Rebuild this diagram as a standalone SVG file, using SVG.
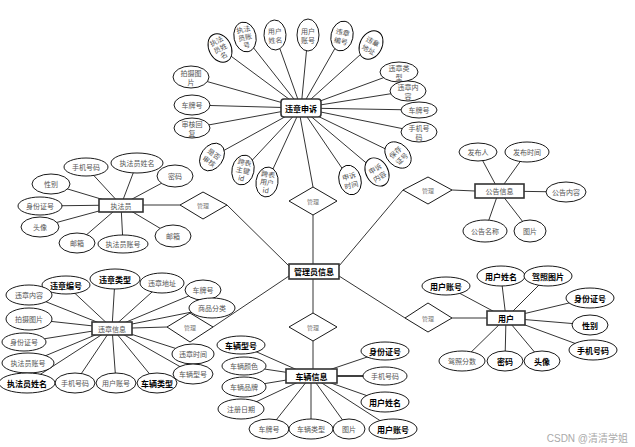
<svg xmlns="http://www.w3.org/2000/svg" width="635" height="447" viewBox="0 0 635 447">
<style>
.bg{fill:#fff}
.l line{stroke:#000;stroke-width:0.8}
.e{fill:#fff;stroke:#000;stroke-width:0.9}
.r{fill:#fff;stroke:#333;stroke-width:1.6}
.d{fill:#fff;stroke:#000;stroke-width:0.9}
text{font-family:"Noto Sans CJK SC","Noto Sans",sans-serif;font-size:7px;fill:#555;text-anchor:middle;dominant-baseline:central}
text.b{font-weight:bold;fill:#000;font-size:8px}
text.s{font-size:6px;fill:#777}
</style>
<rect class="bg" width="635" height="447"/>
<g id="connectors" class="l">
<!-- 违章申诉 -->
<line x1="301" y1="108" x2="220" y2="48"/><line x1="301" y1="108" x2="245" y2="37"/><line x1="301" y1="108" x2="275" y2="35"/><line x1="301" y1="108" x2="308" y2="35"/><line x1="301" y1="108" x2="342" y2="36"/><line x1="301" y1="108" x2="371" y2="45"/><line x1="301" y1="108" x2="191" y2="77"/><line x1="301" y1="108" x2="399" y2="72"/><line x1="301" y1="108" x2="192" y2="105"/><line x1="301" y1="108" x2="408" y2="91"/><line x1="301" y1="108" x2="418" y2="110"/><line x1="301" y1="108" x2="419" y2="132"/><line x1="301" y1="108" x2="398" y2="155"/><line x1="301" y1="108" x2="377" y2="172"/><line x1="301" y1="108" x2="350" y2="180"/><line x1="301" y1="108" x2="267" y2="182"/><line x1="301" y1="108" x2="243" y2="170"/><line x1="301" y1="108" x2="212" y2="157"/><line x1="301" y1="108" x2="192" y2="128"/>
<line x1="300" y1="116" x2="313" y2="187"/>
<!-- 执法员 -->
<line x1="121" y1="205" x2="86" y2="167"/><line x1="121" y1="205" x2="137" y2="163"/><line x1="121" y1="205" x2="175" y2="176"/><line x1="121" y1="205" x2="51" y2="184"/><line x1="121" y1="205" x2="40" y2="206"/><line x1="121" y1="205" x2="40" y2="227"/><line x1="121" y1="205" x2="77" y2="243"/><line x1="121" y1="205" x2="123" y2="244"/><line x1="121" y1="205" x2="173" y2="236"/><line x1="143" y1="205" x2="180" y2="205"/>
<!-- 公告信息 -->
<line x1="499" y1="191" x2="478" y2="152"/><line x1="499" y1="191" x2="527" y2="152"/><line x1="499" y1="191" x2="566" y2="192"/><line x1="499" y1="191" x2="485" y2="231"/><line x1="499" y1="191" x2="530" y2="231"/><line x1="452" y1="190" x2="475" y2="191"/>
<!-- 用户 -->
<line x1="506" y1="318" x2="446" y2="286"/><line x1="506" y1="318" x2="501" y2="276"/><line x1="506" y1="318" x2="548" y2="276"/><line x1="506" y1="318" x2="590" y2="298"/><line x1="506" y1="318" x2="590" y2="325"/><line x1="506" y1="318" x2="593" y2="350"/><line x1="506" y1="318" x2="462" y2="361"/><line x1="506" y1="318" x2="505" y2="361"/><line x1="506" y1="318" x2="542" y2="361"/><line x1="452" y1="318" x2="487" y2="318"/>
<!-- 车辆信息 -->
<line x1="311" y1="376" x2="241" y2="345"/><line x1="311" y1="376" x2="244" y2="366"/><line x1="311" y1="376" x2="244" y2="387"/><line x1="311" y1="376" x2="241" y2="409"/><line x1="311" y1="376" x2="269" y2="429"/><line x1="311" y1="376" x2="311" y2="429"/><line x1="311" y1="376" x2="349" y2="429"/><line x1="311" y1="376" x2="393" y2="429"/><line x1="311" y1="376" x2="385" y2="351"/><line x1="311" y1="376" x2="385" y2="376" style="stroke-width:1.6"/><line x1="311" y1="376" x2="385" y2="402"/><line x1="313" y1="341" x2="313" y2="369"/>
<!-- 违章信息 -->
<line x1="112" y1="328" x2="66" y2="285"/><line x1="112" y1="328" x2="115" y2="279"/><line x1="112" y1="328" x2="162" y2="283"/><line x1="112" y1="328" x2="203" y2="290"/><line x1="112" y1="328" x2="212" y2="308"/><line x1="112" y1="328" x2="29" y2="295"/><line x1="112" y1="328" x2="29" y2="319"/><line x1="112" y1="328" x2="24" y2="342"/><line x1="112" y1="328" x2="28" y2="363"/><line x1="112" y1="328" x2="27" y2="383"/><line x1="112" y1="328" x2="75" y2="383"/><line x1="112" y1="328" x2="116" y2="383"/><line x1="112" y1="328" x2="157" y2="383"/><line x1="112" y1="328" x2="193" y2="354"/><line x1="112" y1="328" x2="193" y2="374"/><line x1="132" y1="328" x2="167" y2="327"/>
<!-- 管理员信息 -->
<line x1="313" y1="215" x2="313" y2="264"/><line x1="313" y1="279" x2="313" y2="313"/><line x1="227" y1="205" x2="289" y2="266"/><line x1="213" y1="327" x2="289" y2="276"/><line x1="403" y1="190" x2="339" y2="266"/><line x1="405" y1="318" x2="339" y2="276"/>
</g>

<g id="rel-top"><polygon class="d" points="313,187 337,201 313,215 289,201"/><text class="s" x="313" y="201">管理</text></g>
<g id="rel-bottom"><polygon class="d" points="313,313 337,327 313,341 289,327"/><text class="s" x="313" y="327">管理</text></g>
<g id="rel-left-top"><polygon class="d" points="203,192 227,205 203,219 180,205"/><text class="s" x="203" y="205">管理</text></g>
<g id="rel-left-bottom"><polygon class="d" points="190,313 213,327 190,342 167,327"/><text class="s" x="190" y="327">管理</text></g>
<g id="rel-right-top"><polygon class="d" points="428,177 452,190 428,204 403,190"/><text class="s" x="428" y="190">管理</text></g>
<g id="rel-right-bottom"><polygon class="d" points="428,303 452,318 428,332 405,318"/><text class="s" x="428" y="318">管理</text></g>

<g id="admin"><rect class="r" x="289" y="264" width="50" height="15"/><text class="b" x="314" y="271.5">管理员信息</text></g>

<g id="appeal">
<rect class="r" x="281" y="99" width="40" height="18" rx="3"/><text class="b" x="301" y="108">违章申诉</text>
<g transform="translate(220,48) rotate(-28)"><ellipse class="e" rx="11" ry="15"/><text y="-8">执法</text><text y="0">员姓</text><text y="8">名</text></g>
<g transform="translate(245,37) rotate(-12)"><ellipse class="e" rx="11" ry="15"/><text y="-8">执法</text><text y="0">员账</text><text y="8">号</text></g>
<g transform="translate(275,35) rotate(-3)"><ellipse class="e" rx="11" ry="15"/><text y="-4">用户</text><text y="5">姓名</text></g>
<g transform="translate(308,35)"><ellipse class="e" rx="11" ry="16"/><text y="-4">用户</text><text y="5">账号</text></g>
<g transform="translate(342,36) rotate(12)"><ellipse class="e" rx="11" ry="15"/><text y="-4">违章</text><text y="5">编号</text></g>
<g transform="translate(371,45) rotate(28)"><ellipse class="e" rx="11" ry="15"/><text y="-4">违章</text><text y="5">地址</text></g>
<g transform="translate(191,77)"><ellipse class="e" rx="18" ry="11"/><text y="-4">拍摄图</text><text y="5">片</text></g>
<g transform="translate(192,105)"><ellipse class="e" rx="18" ry="10"/><text y="0">车牌号</text></g>
<g transform="translate(192,128)"><ellipse class="e" rx="18" ry="10"/><text y="-4">审核回</text><text y="5">复</text></g>
<g transform="translate(399,72)"><ellipse class="e" rx="19" ry="10"/><text y="-4">违章类</text><text y="5">型</text></g>
<g transform="translate(408,91)"><ellipse class="e" rx="18" ry="10"/><text y="-4">违章内</text><text y="5">容</text></g>
<g transform="translate(419,110)"><ellipse class="e" rx="18" ry="8"/><text y="0">车牌号</text></g>
<g transform="translate(419,132)"><ellipse class="e" rx="18" ry="10"/><text y="-4">手机号</text><text y="5">码</text></g>
<g transform="translate(398,155) rotate(-45)"><ellipse class="e" rx="11" ry="15"/><text y="-4">保存</text><text y="5">证号</text></g>
<g transform="translate(377,172) rotate(-30)"><ellipse class="e" rx="11" ry="15"/><text y="-4">申诉</text><text y="5">内容</text></g>
<g transform="translate(350,180) rotate(-15)"><ellipse class="e" rx="11" ry="15"/><text y="-4">申诉</text><text y="5">时间</text></g>
<g transform="translate(267,182) rotate(8)"><ellipse class="e" rx="11" ry="15"/><text y="-8">跨表</text><text y="0">用户</text><text y="8">id</text></g>
<g transform="translate(243,170) rotate(12)"><ellipse class="e" rx="11" ry="15"/><text y="-8">跨表</text><text y="0">主键</text><text y="8">id</text></g>
<g transform="translate(212,157) rotate(35)"><ellipse class="e" rx="11" ry="15"/><text y="-4">是否</text><text y="5">审核</text></g>
</g>

<g id="officer">
<rect class="r" x="99" y="199" width="44" height="13"/><text x="121" y="205.5">执法员</text>
<ellipse class="e" cx="86" cy="167" rx="22" ry="9"/><text x="86" y="167">手机号码</text>
<ellipse class="e" cx="137" cy="163" rx="26" ry="10"/><text x="137" y="163">执法员姓名</text>
<ellipse class="e" cx="175" cy="176" rx="18" ry="11"/><text x="175" y="176">密码</text>
<ellipse class="e" cx="51" cy="184" rx="19" ry="10"/><text x="51" y="184">性别</text>
<ellipse class="e" cx="40" cy="206" rx="22" ry="9"/><text x="40" y="206">身份证号</text>
<ellipse class="e" cx="40" cy="227" rx="19" ry="10"/><text x="40" y="227">头像</text>
<ellipse class="e" cx="77" cy="243" rx="18" ry="10"/><text x="77" y="243">邮箱</text>
<ellipse class="e" cx="123" cy="244" rx="25" ry="9"/><text x="123" y="244">执法员账号</text>
<ellipse class="e" cx="173" cy="236" rx="18" ry="11"/><text x="173" y="236">邮箱</text>
</g>

<g id="notice">
<rect class="r" x="475" y="184" width="49" height="14"/><text x="499.5" y="191">公告信息</text>
<ellipse class="e" cx="478" cy="152" rx="19" ry="9"/><text x="478" y="152">发布人</text>
<ellipse class="e" cx="527" cy="152" rx="22" ry="10"/><text x="527" y="152">发布时间</text>
<ellipse class="e" cx="566" cy="192" rx="20" ry="10"/><text x="566" y="192">公告内容</text>
<ellipse class="e" cx="485" cy="231" rx="22" ry="11"/><text x="485" y="231">公告名称</text>
<ellipse class="e" cx="530" cy="231" rx="16" ry="11"/><text x="530" y="231">图片</text>
</g>

<g id="user">
<rect class="r" x="487" y="311" width="38" height="14"/><text class="b" x="506" y="318">用户</text>
<ellipse class="e" cx="446" cy="286" rx="24" ry="9"/><text class="b" x="446" y="286">用户账号</text>
<ellipse class="e" cx="501" cy="276" rx="24" ry="10"/><text class="b" x="501" y="276">用户姓名</text>
<ellipse class="e" cx="548" cy="276" rx="24" ry="10"/><text class="b" x="548" y="276">驾照图片</text>
<ellipse class="e" cx="590" cy="298" rx="24" ry="10"/><text class="b" x="590" y="298">身份证号</text>
<ellipse class="e" cx="590" cy="325" rx="18" ry="10"/><text class="b" x="590" y="325">性别</text>
<ellipse class="e" cx="593" cy="350" rx="24" ry="10"/><text class="b" x="593" y="350">手机号码</text>
<ellipse class="e" cx="462" cy="361" rx="23" ry="10"/><text x="462" y="361">驾照分数</text>
<ellipse class="e" cx="505" cy="361" rx="18" ry="10"/><text class="b" x="505" y="361">密码</text>
<ellipse class="e" cx="542" cy="361" rx="18" ry="10"/><text class="b" x="542" y="361">头像</text>
</g>

<g id="vehicle">
<rect class="r" x="286" y="369" width="51" height="14"/><text class="b" x="311.5" y="376">车辆信息</text>
<ellipse class="e" cx="241" cy="345" rx="24" ry="9"/><text class="b" x="241" y="345">车辆型号</text>
<ellipse class="e" cx="244" cy="366" rx="22" ry="9"/><text x="244" y="366">车辆颜色</text>
<ellipse class="e" cx="244" cy="387" rx="22" ry="10"/><text x="244" y="387">车辆品牌</text>
<ellipse class="e" cx="241" cy="409" rx="23" ry="10"/><text x="241" y="409">注册日期</text>
<ellipse class="e" cx="269" cy="429" rx="20" ry="10"/><text x="269" y="429">车牌号</text>
<ellipse class="e" cx="311" cy="429" rx="22" ry="10"/><text x="311" y="429">车辆类型</text>
<ellipse class="e" cx="349" cy="429" rx="16" ry="10"/><text x="349" y="429">图片</text>
<ellipse class="e" cx="393" cy="429" rx="24" ry="10"/><text class="b" x="393" y="429">用户账号</text>
<ellipse class="e" cx="385" cy="351" rx="24" ry="9"/><text class="b" x="385" y="351">身份证号</text>
<ellipse class="e" cx="385" cy="376" rx="22" ry="9"/><text x="385" y="376">手机号码</text>
<ellipse class="e" cx="385" cy="402" rx="24" ry="10"/><text class="b" x="385" y="402">用户姓名</text>
</g>

<g id="violation">
<rect class="r" x="92" y="322" width="40" height="13"/><text x="112" y="328.5">违章信息</text>
<ellipse class="e" cx="66" cy="285" rx="24" ry="9"/><text class="b" x="66" y="285">违章编号</text>
<ellipse class="e" cx="115" cy="279" rx="25" ry="10"/><text class="b" x="115" y="279">违章类型</text>
<ellipse class="e" cx="162" cy="283" rx="22" ry="10"/><text x="162" y="283">违章地址</text>
<ellipse class="e" cx="203" cy="290" rx="18" ry="10"/><text x="203" y="290">车牌号</text>
<ellipse class="e" cx="212" cy="308" rx="23" ry="10"/><text x="212" y="308">商品分类</text>
<ellipse class="e" cx="29" cy="295" rx="23" ry="10"/><text x="29" y="295">违章内容</text>
<ellipse class="e" cx="29" cy="319" rx="23" ry="11"/><text x="29" y="319">拍摄图片</text>
<ellipse class="e" cx="24" cy="342" rx="22" ry="9"/><text x="24" y="342">身份证号</text>
<ellipse class="e" cx="28" cy="363" rx="26" ry="10"/><text x="28" y="363">执法员账号</text>
<ellipse class="e" cx="193" cy="354" rx="21" ry="10"/><text x="193" y="354">违章时间</text>
<ellipse class="e" cx="193" cy="374" rx="20" ry="10"/><text x="193" y="374">车辆型号</text>
<ellipse class="e" cx="75" cy="383" rx="20" ry="10"/><text x="75" y="383">手机号码</text>
<ellipse class="e" cx="116" cy="383" rx="20" ry="10"/><text x="116" y="383">用户账号</text>
<ellipse class="e" cx="157" cy="383" rx="20" ry="10"/><text class="b" x="157" y="383">车辆类型</text>
<ellipse class="e" cx="27" cy="383" rx="28" ry="10"/><text class="b" x="27" y="383">执法员姓名</text>
</g>

<text x="628" y="438" style="text-anchor:end;font-size:10px;fill:#aaa;font-family:'Liberation Sans','Noto Sans CJK SC',sans-serif">CSDN @清清学姐</text>
</svg>
